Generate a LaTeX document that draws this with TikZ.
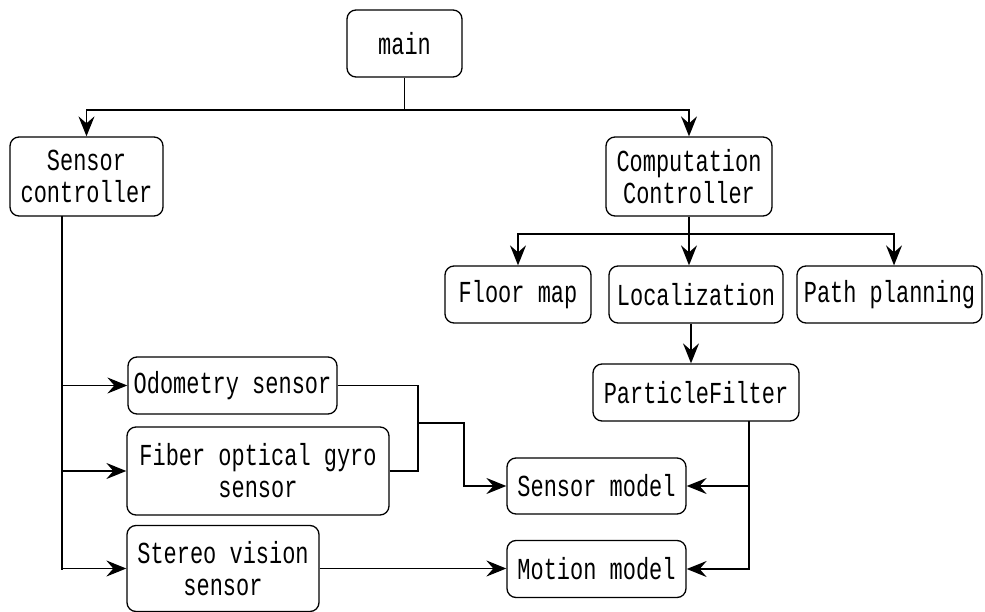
\documentclass[tikz,border=0pt]{standalone}
\usepackage{fontspec}
\setmainfont{Liberation Mono}[FakeStretch=0.72]
\usetikzlibrary{arrows.meta}
\tikzset{
  box/.style={draw, rounded corners=9pt, line width=1.3pt, inner sep=2pt,
    align=center, font=\fontsize{30.5}{32}\selectfont},
  arr/.style={-{Stealth[length=20pt, width=16pt, inset=7pt]}, line width=1.3pt},
  wire/.style={line width=1.3pt}
}
\begin{document}
\begin{tikzpicture}[x=1pt, y=-1pt]
        \useasboundingbox (0,0) rectangle (985,612);

        % Top level
        \node[box, minimum width=115, minimum height=67] (main) at (404.5,43.5) {main};
        \node[box, minimum width=153, minimum height=79] (sensctrl) at (86.5,176.5) {Sensor\\controller};
        \node[box, minimum width=166, minimum height=79] (compctrl) at (689,176.5) {Computation\\Controller};

        % Computation side
        \node[box, minimum width=146, minimum height=57] (floormap) at (518,294.5) {Floor map};
        \node[box, minimum width=174, minimum height=57] (localization) at (696,294.5) {Localization};
        \node[box, minimum width=185, minimum height=57] (pathplan) at (889.5,294.5) {Path planning};
        \node[box, minimum width=206, minimum height=57] (pfilter) at (696,392.5) {ParticleFilter};

        % Sensors
        \node[box, minimum width=209, minimum height=57] (odometry) at (232.5,385.5) {Odometry sensor};
        \node[box, minimum width=262, minimum height=88] (fiber) at (258,471) {Fiber optical gyro\\sensor};
        \node[box, minimum width=192, minimum height=86] (stereo) at (223,568.5) {Stereo vision\\sensor};

        % Models
        \node[box, minimum width=179, minimum height=56] (sensmodel) at (596.5,486) {Sensor model};
        \node[box, minimum width=179, minimum height=57] (motmodel) at (596.5,569) {Motion model};

        % Junctions
        \coordinate (mj) at (404.5,110);
        \coordinate (cj) at (689,234);
        \coordinate (st) at (62,216);
        \coordinate (sb) at (62,570);
        \coordinate (oj) at (418,423);
        \coordinate (sj) at (464,423);
        \coordinate (pd) at (749,421);

        % main -> controllers
        \draw[wire] (main.south) -- (mj);
        \draw[arr] (mj) -| (sensctrl.north);
        \draw[arr] (mj) -| (compctrl.north);

        % Computation controller -> modules
        \draw[arr] (compctrl.south) -- (compctrl.south |- localization.north);
        \draw[arr] (cj) -| (floormap.north);
        \draw[arr] (cj) -| ([xshift=4.5]pathplan.north);
        \draw[arr] ([xshift=-5]localization.south) -- ([xshift=-5]pfilter.north);

        % Sensor controller -> sensors
        \draw[wire] (st) -- (sb);
        \draw[arr] (st |- odometry.west) -- (odometry.west);
        \draw[arr] (st |- fiber.west) -- (fiber.west);
        \draw[arr] (st |- stereo.west) -- (stereo.west);

        % Sensors -> models
        \draw[wire] (odometry.east) -| (oj);
        \draw[wire] (fiber.east) -| (oj);
        \draw[arr] (oj) -- (sj) |- (sensmodel.west);
        \draw[arr] (stereo.east) -- (stereo.east -| motmodel.west);

        % ParticleFilter -> models
        \draw[arr] (pd) |- (sensmodel.east);
        \draw[arr] (pd) |- (motmodel.east);
\end{tikzpicture}
\end{document}
